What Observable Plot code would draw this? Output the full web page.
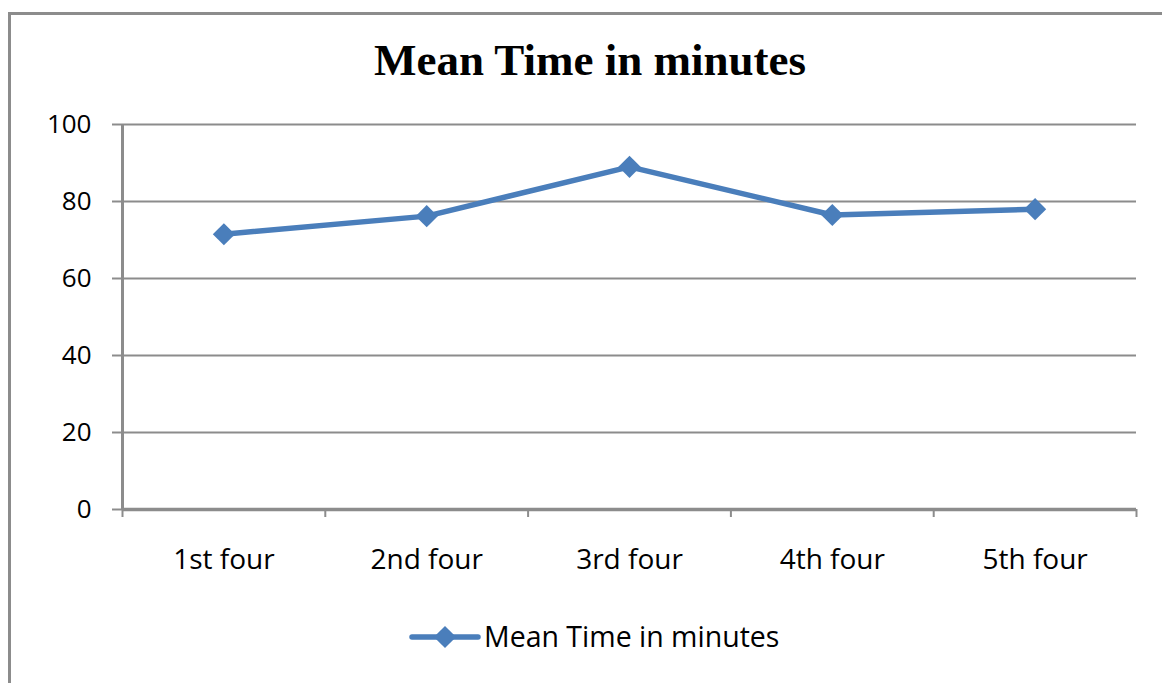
<!DOCTYPE html>
<html>
<head>
<meta charset="utf-8">
<script src="https://cdn.jsdelivr.net/npm/d3@7"></script>
<script src="https://cdn.jsdelivr.net/npm/@observablehq/plot@0.6"></script>
<style>
  body { margin: 0; background: #fff; }
  #chart { position: relative; width: 1162px; height: 683px; overflow: hidden; background: #fff; }
  #frame { position: absolute; left: 8px; top: 12px; width: 1200px; height: 720px;
           border: 3px solid #8c8c8c; box-sizing: border-box; }
  #chart svg { position: absolute; left: 0; top: 0; }
</style>
</head>
<body>
<div id="chart"><div id="frame"></div></div>
<script>
// Chart content
const chartTitle = "Mean Time in minutes";
const seriesName = "Mean Time in minutes";
const categories = ["1st four", "2nd four", "3rd four", "4th four", "5th four"];
const meanMinutes = [71.5, 76.2, 89.0, 76.5, 78.0];
const yTicks = [0, 20, 40, 60, 80, 100];

const lineColor = "#4a7ebb";
const gridColor = "#8c8c8c";
const labelFont = "'Open Sans', 'Noto Sans', sans-serif";

// Each category sits in the middle of its own unit-wide slot
const data = categories.map((c, i) => ({category: c, slot: i + 0.5, value: meanMinutes[i]}));
const slotEdges = d3.range(categories.length + 1);
const slotCenters = categories.map((c, i) => i + 0.5);

const chart = document.getElementById("chart");

const plot = Plot.plot({
  width: 1162,
  height: 600,
  marginLeft: 122,
  marginRight: 26,
  marginTop: 124,
  marginBottom: 91,
  style: {fontFamily: labelFont, fontSize: "26px", color: "#000", background: "transparent", overflow: "visible"},
  x: {domain: [0, categories.length], axis: null},
  y: {domain: [0, 100], axis: null},
  marks: [
    Plot.ruleY(yTicks.filter(d => d > 0), {stroke: gridColor, strokeWidth: 2}),
    Plot.axisY({ticks: yTicks, tickSize: 10, tickPadding: 21, stroke: gridColor, strokeWidth: 2, strokeOpacity: 1,
                fill: "#000", fontSize: 26, tickFormat: d => d, label: null}),
    Plot.axisX({ticks: slotEdges, tickSize: 8, stroke: gridColor, strokeWidth: 2, strokeOpacity: 1,
                tickFormat: () => "", label: null}),
    Plot.axisX({ticks: slotCenters, tickSize: 0, tickPadding: 40, fill: "#000", fontSize: 28,
                tickFormat: d => categories[Math.floor(d)], label: null}),
    Plot.ruleX([0], {stroke: gridColor, strokeWidth: 3}),
    Plot.ruleY([0], {stroke: gridColor, strokeWidth: 3.5}),
    Plot.line(data, {x: "slot", y: "value", stroke: lineColor, strokeWidth: 5.5, strokeLinejoin: "round"}),
    Plot.dot(data, {x: "slot", y: "value", symbol: "diamond2", r: 10, fill: lineColor, stroke: "none"})
  ]
});
chart.appendChild(plot);

// Title and legend drawn on an overlay
const overlay = d3.select(chart).append("svg")
  .attr("width", 1162).attr("height", 683)
  .style("pointer-events", "none");

overlay.append("text")
  .attr("x", 590).attr("y", 75)
  .attr("text-anchor", "middle")
  .attr("font-family", "'Liberation Serif', 'Times New Roman', serif")
  .attr("font-weight", "bold")
  .attr("font-size", 45)
  .attr("fill", "#000")
  .text(chartTitle);

const legend = overlay.append("g").attr("transform", "translate(412,637)");
legend.append("line")
  .attr("x1", 0).attr("x2", 66).attr("y1", 0).attr("y2", 0)
  .attr("stroke", lineColor).attr("stroke-width", 5.5).attr("stroke-linecap", "round");
legend.append("path")
  .attr("d", d3.symbol(d3.symbolDiamond2, Math.PI * 100)())
  .attr("transform", "translate(33,0)")
  .attr("fill", lineColor);
legend.append("text")
  .attr("x", 72).attr("y", 10)
  .attr("font-family", labelFont)
  .attr("font-size", 28.5)
  .attr("fill", "#000")
  .text(seriesName);
</script>
</body>
</html>
